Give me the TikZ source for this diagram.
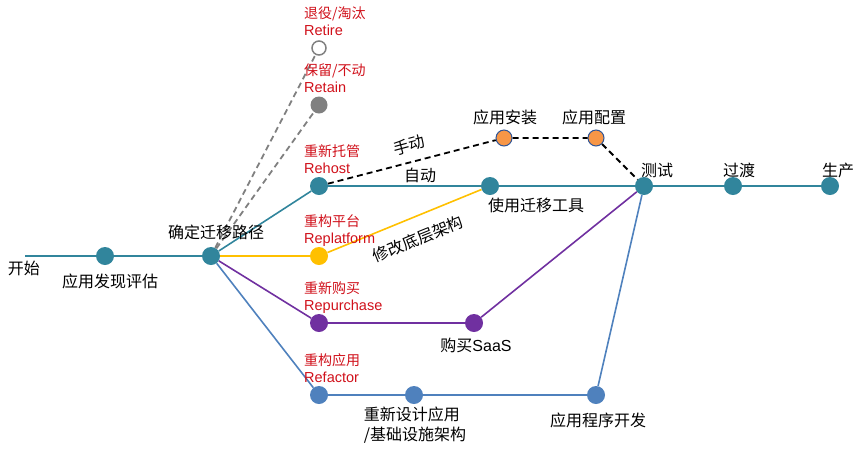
\documentclass[tikz,border=0pt]{standalone}
\usepackage{fontspec}
\setmainfont{Noto Sans CJK SC}
\newfontfamily\latinf{Liberation Sans}
\usetikzlibrary{positioning}
\definecolor{lineteal}{HTML}{31859C}
\definecolor{lineyellow}{HTML}{FFC000}
\definecolor{linepurple}{HTML}{7030A0}
\definecolor{lineblue}{HTML}{4F81BD}
\definecolor{stoporange}{HTML}{F79646}
\definecolor{rimblue}{HTML}{2F5597}
\definecolor{linegray}{HTML}{808080}
\definecolor{tagred}{HTML}{D0101A}
\begin{document}
\begin{tikzpicture}[x=1pt,y=-1pt,
    stop/.style={circle,inner sep=0pt,minimum size=18pt,fill=#1},
    orangestop/.style={circle,inner sep=0pt,minimum size=16pt,fill=stoporange,draw=rimblue,line width=1pt},
    tag/.style={text=tagred,font=\fontsize{14}{17}\selectfont,anchor=base west,inner sep=0pt},
    tagen/.style={tag,font=\fontsize{14.5}{17}\selectfont\latinf},
    lbl/.style={font=\fontsize{16}{20}\selectfont,inner sep=0pt},
    track/.style={line width=1.6pt,#1},
    manual/.style={line width=1.8pt,dash pattern=on 6pt off 4pt},
    skip/.style={line width=1.8pt,linegray,dash pattern=on 6pt off 4pt}]
  \useasboundingbox (0,0) rectangle (864,451);
  % stops
  \coordinate (begin) at (25,256);
  \node[stop=lineteal] (assess) at (105,256) {};
  \node[stop=lineteal] (route) at (211,256) {};
  \node[circle,inner sep=0pt,minimum size=14pt,fill=white,draw=linegray,line width=1.5pt] (retire) at (319,48) {};
  \node[stop=linegray,minimum size=17pt] (retain) at (319,105) {};
  \node[stop=lineteal] (rehost) at (319,186) {};
  \node[stop=lineyellow] (replat) at (319,256) {};
  \node[stop=linepurple] (repurch) at (319,323) {};
  \node[stop=lineblue] (refact) at (319,395) {};
  \node[orangestop] (install) at (504,138) {};
  \node[orangestop] (config) at (596,138) {};
  \node[stop=lineteal] (tool) at (490,186) {};
  \node[stop=lineteal] (test) at (644,186) {};
  \node[stop=lineteal] (trans) at (733,186) {};
  \node[stop=lineteal] (prod) at (830,186) {};
  \node[stop=linepurple] (saas) at (474,323) {};
  \node[stop=lineblue] (redesign) at (414,395) {};
  \node[stop=lineblue] (dev) at (596,395) {};
  % tracks
  \draw[track=lineteal] (begin) -- (assess) -- (route) -- (rehost) -- (tool) -- (test) -- (trans) -- (prod);
  \draw[skip] (route) -- (retire);
  \draw[skip] (route) -- (retain);
  \draw[track=lineyellow] (route) -- (replat) -- (tool);
  \draw[track=linepurple] (route) -- (repurch) -- (saas) -- (test);
  \draw[track=lineblue] (route) -- (refact) -- (redesign) -- (dev) -- (test);
  \draw[manual] (rehost) -- (install) -- (config) -- (test);
  % strategy tags
  \node[tag] (tretire) at (304,18) {退役/淘汰};
  \node[tagen] (tretireEn) at (304,35) {Retire};
  \node[tag] (tretain) at (304,75) {保留/不动};
  \node[tagen] (tretainEn) at (304,92) {Retain};
  \node[tag] (trehost) at (304,156) {重新托管};
  \node[tagen] (trehostEn) at (304,173) {Rehost};
  \node[tag] (treplat) at (304,226) {重构平台};
  \node[tagen] (treplatEn) at (304,243) {Replatform};
  \node[tag] (trepurch) at (304,293) {重新购买};
  \node[tagen] (trepurchEn) at (304,310) {Repurchase};
  \node[tag] (trefact) at (304,365) {重构应用};
  \node[tagen] (trefactEn) at (304,382) {Refactor};
  % labels
  \node[lbl] (lstart) at (24,268) {开始};
  \node[lbl] (lassess) at (110,281) {应用发现评估};
  \node[lbl] (lroute) at (216,232) {确定迁移路径};
  \node[lbl] (linstall) at (505,117) {应用安装};
  \node[lbl] (lconfig) at (594,117) {应用配置};
  \node[lbl] (ltool) at (536,205) {使用迁移工具};
  \node[lbl] (ltest) at (657,170) {测试};
  \node[lbl] (ltrans) at (739,170) {过渡};
  \node[lbl] (lprod) at (838,170) {生产};
  \node[lbl] (lsaas) at (476,345) {购买{\latinf SaaS}};
  \node[lbl,align=left] (lredesign) at (415,425) {重新设计应用\\/基础设施架构};
  \node[lbl] (ldev) at (598,420) {应用程序开发};
  \node[lbl,rotate=15] (lmanual) at (409,145) {手动};
  \node[lbl] (lauto) at (420,175) {自动};
  \node[lbl,rotate=22] (lmodify) at (418,239) {修改底层架构};
\end{tikzpicture}
\end{document}
